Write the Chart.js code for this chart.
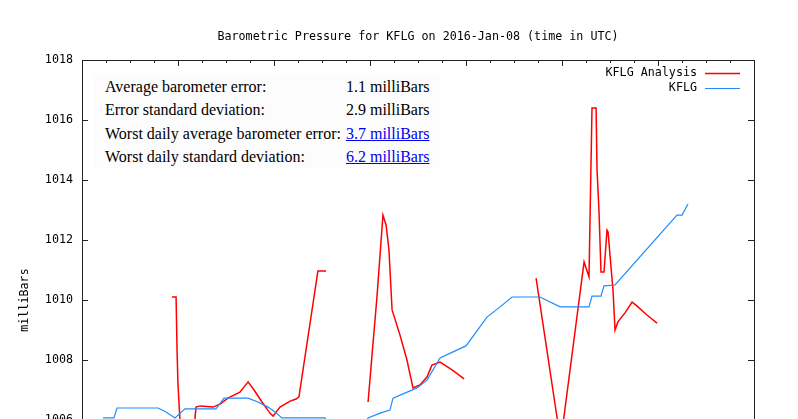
<!DOCTYPE html>
<html lang="en">
<head>
<meta charset="UTF-8">
<title>Barometric Pressure for KFLG</title>
<script src="https://cdn.jsdelivr.net/npm/chart.js"></script>
<style>
  html, body { margin: 0; padding: 0; background: #fff; overflow: hidden; }
  .wrap { position: relative; width: 798px; height: 600px; }
  #chart { display: block; }
  .stats {
    position: absolute; left: 93px; top: 75px;
    padding: 0 10px 0 12px;
    background: #fcfcfc;
    font-family: 'Liberation Serif', 'Times New Roman', serif;
    font-size: 16px; color: #000;
  }
  .stats table { border-collapse: collapse; }
  .stats td { padding: 0; height: 23.3px; line-height: 23.3px; white-space: nowrap; }
  .stats td.val { text-align: right; padding-left: 5px; }
  .stats a { color: #0000ee; text-decoration: underline; }
</style>
</head>
<body>
<div class="wrap">
  <canvas id="chart" width="798" height="600"></canvas>
  <div class="stats" id="stats"></div>
</div>

<script>
// hours on the x axis, pressure in milliBars
const xTickLabels = ['20:00', '00:00', '04:00', '08:00', '12:00', '16:00', '20:00', '00:00'];
const yTicks = [1002, 1004, 1006, 1008, 1010, 1012, 1014, 1016, 1018];

const analysisHours = [
  3.75, 3.92, 3.96, 4.0, 4.08, 4.17, 4.67, 4.71, 4.75, 4.92, 5.46, 5.75, 6.08, 6.58, 6.92, 7.17,
  7.5, 7.83, 7.96, 8.25, 8.67, 8.92, 9.04, 9.83, 10.17,
  11.0,
  11.92, 12.13, 12.29, 12.54, 12.67, 12.79, 12.92, 13.25, 13.54, 13.79, 14.08, 14.375, 14.58,
  14.92, 15.42, 15.92,
  17.0,
  18.92, 19.79, 19.96, 20.08, 20.92, 21.125, 21.25, 21.42, 21.46, 21.54, 21.625, 21.75, 21.875,
  21.92, 22.0, 22.125, 22.21, 22.33, 22.625, 22.92, 23.08, 23.54, 23.96
];
const analysisPressure = [
  1010.1, 1010.1, 1008.33, 1007.17, 1006.03, 1004.4, 1004.4, 1006.07, 1006.43, 1006.47, 1006.43,
  1006.53, 1006.73, 1006.93, 1007.27, 1007.0, 1006.6, 1006.23, 1006.13, 1006.43, 1006.63, 1006.7,
  1006.77, 1010.97, 1010.97,
  null,
  1006.6, 1008.6, 1010.1, 1012.83, 1012.5, 1011.67, 1009.67, 1008.83, 1008.0, 1007.07, 1007.17,
  1007.43, 1007.83, 1007.93, 1007.67, 1007.37,
  null,
  1010.73, 1006.1, 1005.27, 1006.1, 1011.27, 1010.77, 1016.4, 1016.4, 1014.33, 1013.0, 1010.93,
  1010.93, 1012.33, 1012.27, 1011.5, 1010.33, 1009.0, 1009.27, 1009.57, 1009.93, 1009.83, 1009.5,
  1009.23
];

const stationHours = [
  0.875, 1.33, 1.46, 3.17, 3.5, 3.875, 4.29, 5.58, 5.92, 6.92, 7.33, 7.75, 8.04, 8.33, 10.125,
  10.29, 11.75, 11.92, 12.42, 12.83, 12.96, 13.96, 14.375, 14.92, 15.46, 16.0, 16.875, 17.42,
  17.92, 19.08, 19.92, 21.125, 21.25, 21.625, 21.75, 22.21, 24.79, 25.0, 25.25
];
const stationPressure = [
  1006.07, 1006.07, 1006.4, 1006.4, 1006.27, 1006.07, 1006.37, 1006.37, 1006.73, 1006.73, 1006.6,
  1006.43, 1006.27, 1006.07, 1006.07, 1005.77, 1005.77, 1006.07, 1006.23, 1006.33, 1006.73,
  1007.07, 1007.33, 1008.07, 1008.27, 1008.47, 1009.43, 1009.77, 1010.1, 1010.1, 1009.77, 1009.77,
  1010.13, 1010.13, 1010.47, 1010.5, 1012.83, 1012.83, 1013.2
];

const statLabels = ['Average barometer error:', 'Error standard deviation:',
  'Worst daily average barometer error:', 'Worst daily standard deviation:'];
const statValues = ['1.1 milliBars', '2.9 milliBars', '3.7 milliBars', '6.2 milliBars'];
const statLinked = [false, false, true, true];

// stats table overlay
let rows = '';
for (let i = 0; i < statLabels.length; i++) {
  const v = statLinked[i] ? '<a href="#">' + statValues[i] + '</a>' : statValues[i];
  rows += '<tr><td>' + statLabels[i] + '</td><td class="val">' + v + '</td></tr>';
}
document.getElementById('stats').innerHTML = '<table>' + rows + '</table>';

const monoFont = { family: "'DejaVu Sans Mono', monospace", size: 11.7 };

// gnuplot style frame: border, inward ticks, title, axis label, legend
const framePlugin = {
  id: 'frame',
  afterDatasetsDraw(chart) {
    const { ctx, chartArea: a, scales } = chart;
    ctx.save();
    ctx.strokeStyle = '#222';
    ctx.lineWidth = 1;
    ctx.strokeRect(Math.round(a.left) + 0.5, Math.round(a.top) + 0.5,
      Math.round(a.right - a.left), Math.round(a.bottom - a.top));

    ctx.beginPath();
    yTicks.forEach(v => {
      const y = Math.round(scales.y.getPixelForValue(v)) + 0.5;
      ctx.moveTo(a.left, y); ctx.lineTo(a.left + 6, y);
      ctx.moveTo(a.right - 6, y); ctx.lineTo(a.right, y);
    });
    for (let h = scales.x.min; h <= scales.x.max; h++) {
      const x = Math.round(scales.x.getPixelForValue(h)) + 0.5;
      const len = h % 4 === 0 ? 6 : 3;
      ctx.moveTo(x, a.top); ctx.lineTo(x, a.top + len);
      ctx.moveTo(x, a.bottom - len); ctx.lineTo(x, a.bottom);
    }
    ctx.stroke();

    ctx.fillStyle = '#000';
    ctx.font = monoFont.size + 'px ' + monoFont.family;
    ctx.textBaseline = 'middle';
    ctx.textAlign = 'center';
    ctx.fillText('Barometric Pressure for KFLG on 2016-Jan-08 (time in UTC)', (a.left + a.right) / 2, 37);

    ctx.save();
    ctx.translate(25, (a.top + a.bottom) / 2);
    ctx.rotate(-Math.PI / 2);
    ctx.fillText('milliBars', 0, 0);
    ctx.restore();

    ctx.textAlign = 'right';
    chart.data.datasets.forEach((ds, i) => {
      const y = 73 + i * 15;
      ctx.fillStyle = '#000';
      ctx.fillText(ds.label, a.right - 57, y);
      ctx.strokeStyle = ds.borderColor;
      ctx.lineWidth = ds.borderWidth;
      ctx.beginPath();
      ctx.moveTo(a.right - 49, y + 0.5);
      ctx.lineTo(a.right - 14, y + 0.5);
      ctx.stroke();
    });
    ctx.restore();
  }
};

const toPoints = (xs, ys) => xs.map((x, i) => ({ x: x, y: ys[i] }));

new Chart(document.getElementById('chart'), {
  type: 'line',
  data: {
    datasets: [{
      label: 'KFLG Analysis',
      data: toPoints(analysisHours, analysisPressure),
      borderColor: '#ff0000',
      borderWidth: 1.5,
      pointRadius: 0,
      spanGaps: false,
      order: 1
    }, {
      label: 'KFLG',
      data: toPoints(stationHours, stationPressure),
      borderColor: '#1e8cff',
      borderWidth: 1.2,
      pointRadius: 0,
      order: 0
    }]
  },
  options: {
    responsive: false,
    animation: false,
    layout: { padding: { top: 60, right: 44, left: 0, bottom: 0 } },
    plugins: { legend: { display: false }, tooltip: { enabled: false } },
    scales: {
      x: {
        type: 'linear', min: 0, max: 28,
        grid: { display: false, drawTicks: false },
        border: { display: false },
        ticks: { stepSize: 4, padding: 10, color: '#000', font: monoFont,
          callback: v => xTickLabels[v / 4] },
        afterFit(s) { s.height = 60; }
      },
      y: {
        min: 1002, max: 1018,
        grid: { display: false, drawTicks: false },
        border: { display: false },
        ticks: { stepSize: 2, padding: 9, color: '#000', font: monoFont,
          callback: v => String(v) },
        afterFit(s) { s.width = 82; }
      }
    }
  },
  plugins: [framePlugin]
});
</script>
</body>
</html>
